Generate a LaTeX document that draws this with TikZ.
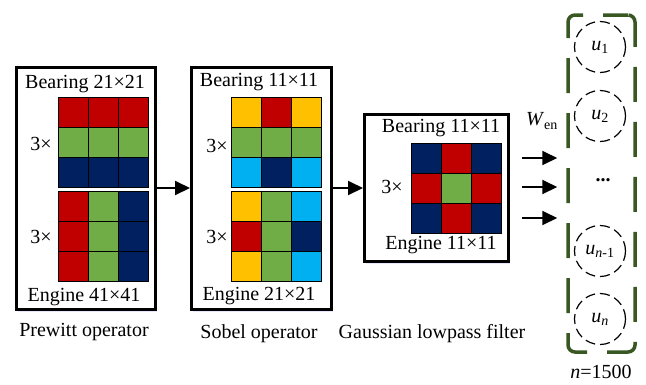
\documentclass[tikz,border=0pt]{standalone}
\usepackage{fontspec}
\setmainfont{Liberation Serif}
\usetikzlibrary{arrows.meta, positioning, shadows}

\definecolor{kred}{HTML}{C00000}
\definecolor{kgreen}{HTML}{70AD47}
\definecolor{knavy}{HTML}{002060}
\definecolor{kyellow}{HTML}{FFC000}
\definecolor{kcyan}{HTML}{00B0F0}
\definecolor{lgreen}{HTML}{385723}

% 3x3 kernel, #1,#2 = top left corner, #3 = nine colours row by row
\newcommand{\kernelgrid}[3]{%
  \foreach \c [count=\i from 0] in {#3} {
    \pgfmathtruncatemacro\kcol{mod(\i,3)}
    \pgfmathtruncatemacro\krow{div(\i,3)}
    \filldraw[cell, fill=\c] ({#1+30*\kcol},{#2+30*\krow}) rectangle ++(30,30);
  }%
}

\begin{document}
\begin{tikzpicture}[x=1pt, y=-1pt,
  txt/.style    = {font=\fontsize{20}{24}\selectfont, inner sep=0pt},
  opbox/.style  = {draw, line width=3pt, fill=white,
                   drop shadow={shadow xshift=1pt, shadow yshift=-2.5pt,
                   fill=blue!12, draw=none, opacity=0.8}},
  cell/.style   = {draw=black, line width=0.9pt},
  arr/.style    = {-{Triangle[length=15pt, width=14pt]}, line width=2pt},
  neuron/.style = {circle, draw, line width=1.2pt, dash pattern=on 10pt off 5pt,
                   minimum size=51pt, inner sep=0pt, txt},
  layer/.style  = {draw=lgreen, line width=3.5pt, rounded corners=7pt,
                   dash pattern=on 35pt off 20pt, dash phase=10pt},
]
\useasboundingbox (0,0) rectangle (646,384);

% operator boxes
\node[opbox, minimum width=139pt, minimum height=242pt] (prewitt) at (86,188) {};
\node[opbox, minimum width=140pt, minimum height=242pt] (sobel)   at (261.5,188) {};
\node[opbox, minimum width=144pt, minimum height=147pt] (gauss)   at (436.5,188) {};

% Prewitt kernels
\kernelgrid{58}{97}{kred,kred,kred,kgreen,kgreen,kgreen,knavy,knavy,knavy}
\kernelgrid{58}{191}{kred,kgreen,knavy,kred,kgreen,knavy,kred,kgreen,knavy}
\node[txt] (prB) at (85,84)  {Bearing 21×21};
\node[txt] (prE) at (84,297) {Engine 41×41};
\node[txt] (prT) at (41,144) {3×};
\node[txt] (prU) at (41,237) {3×};
\node[txt] (prL) at (84,332) {Prewitt operator};

% Sobel kernels
\kernelgrid{231}{97}{kyellow,kred,kyellow,kgreen,kgreen,kgreen,kcyan,knavy,kcyan}
\kernelgrid{231}{191}{kyellow,kgreen,kcyan,kred,kgreen,knavy,kyellow,kgreen,kcyan}
\node[txt] (soB) at (259,82)  {Bearing 11×11};
\node[txt] (soE) at (259,296) {Engine 21×21};
\node[txt] (soT) at (217,146) {3×};
\node[txt] (soU) at (217,237) {3×};
\node[txt] (soL) at (259,334) {Sobel operator};

% Gaussian kernel
\kernelgrid{411}{143}{knavy,kred,knavy,kred,kgreen,kred,knavy,kred,knavy}
\node[txt] (gaB) at (441,128) {Bearing 11×11};
\node[txt] (gaE) at (441,245) {Engine 11×11};
\node[txt] (gaT) at (392,187) {3×};
\node[txt] (gaL) at (432,334) {Gaussian lowpass filter};

\draw[arr] (prewitt.east) -- (sobel.west);
\draw[arr] (sobel.east) -- (gauss.west);

% input layer
\node[layer, minimum width=67pt, minimum height=337pt] (inlayer) at (601.5,183.5) {};
\node[neuron] (u1)  at (600,47)  {\textit{u}\textsubscript{1}};
\node[neuron] (u2)  at (600,116) {\textit{u}\textsubscript{2}};
\node[txt]    (dots) at (603,180) {\textbf{...}};
\node[neuron] (un1) at (600,251) {\textit{u}\textsubscript{\textit{n}-1}};
\node[neuron] (un)  at (600,319) {\textit{u}\textsubscript{\textit{n}}};
\node[txt]    (nnum) at (601,372) {\textit{n}=1500};

\node[txt] (wen) at (542,121) {\textit{W}\textsubscript{en}};
\foreach \y [count=\k] in {158,187,218} {
  \coordinate (in\k) at (522,\y);
  \draw[arr, shorten >=9pt] (in\k) -- (in\k -| inlayer.west);
}

\end{tikzpicture}
\end{document}
